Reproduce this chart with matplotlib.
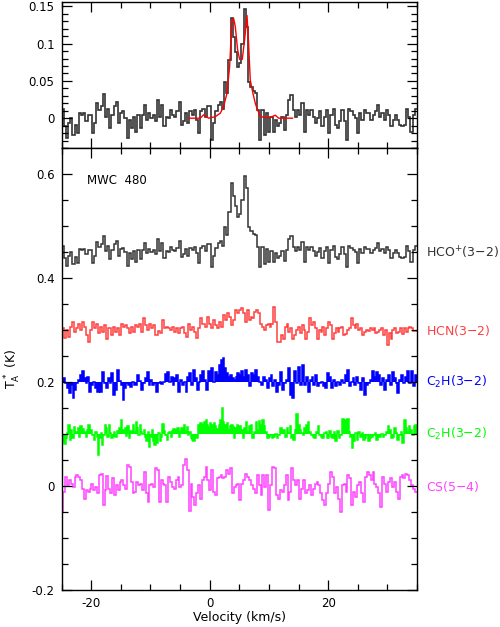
import numpy as np
import matplotlib
matplotlib.use('Agg')
import matplotlib.pyplot as plt
from matplotlib.ticker import MultipleLocator, FuncFormatter
from matplotlib.transforms import blended_transform_factory

# velocity range and split point used when reading the spectra (km/s)
V_MIN, V_SPLIT, V_MAX = -25.0, 5.0, 35.0

# HCO+(3-2), antenna temperature in K (below / above the split velocity)
hco_lo = [0.013, -0.011, -0.027, -0.007, 0.000, -0.022, -0.009, -0.020, 0.007, 0.004,
          0.007, -0.004, 0.004, 0.004, -0.020, -0.007, 0.020, 0.011, 0.016, 0.032,
          0.002, 0.013, -0.013, 0.004, 0.016, 0.022, -0.007, 0.007, 0.009, 0.000,
          -0.027, -0.002, -0.013, 0.002, -0.018, 0.004, -0.013, 0.004, 0.018, -0.002,
          0.007, 0.000, 0.004, -0.004, 0.025, 0.002, 0.018, -0.011, 0.002, 0.000,
          0.011, 0.004, 0.002, 0.009, 0.022, -0.009, -0.004, 0.007, -0.007, 0.009,
          0.004, 0.011, -0.002, -0.020, 0.009, 0.013, 0.002, 0.016, 0.016, -0.029,
          -0.007, 0.009, 0.018, 0.022, 0.013, 0.049, 0.034, 0.078, 0.134, 0.109,
          0.089, 0.069]
hco_hi = [0.074, 0.100, 0.147, 0.123, 0.049, 0.042, 0.036, 0.034, 0.011, -0.029,
          0.011, -0.022, 0.007, -0.018, 0.002, -0.018, -0.002, -0.011, -0.007, 0.002,
          -0.016, 0.004, 0.025, 0.031, 0.011, 0.002, 0.011, 0.004, 0.020, -0.018,
          0.011, 0.004, 0.011, 0.002, -0.007, 0.000, 0.009, -0.011, 0.002, 0.011,
          -0.020, 0.004, 0.013, -0.009, -0.013, -0.004, 0.011, -0.004, -0.029, 0.013,
          0.009, 0.004, 0.000, -0.020, 0.007, -0.002, 0.011, 0.007, 0.007, -0.002,
          0.004, 0.009, 0.018, 0.002, 0.007, -0.002, 0.011, 0.004, -0.011, -0.002,
          0.004, -0.002, -0.009, -0.011, -0.009, 0.013, 0.002, -0.018, 0.004, 0.013]

# disk model fit to HCO+ (top panel)
fit_v = [-3.54, -1.57, -1.01, -0.17, 0.96, 1.80, 2.36, 2.93, 3.37, 3.78, 4.05, 4.33,
         4.72, 5.06, 5.51, 5.90, 6.31, 6.58, 6.86, 7.32, 7.71, 8.09, 8.55, 9.11,
         10.24, 11.08, 11.64, 14.0]
fit_t = [0.0, 0.0, 0.0045, 0.0, 0.002, 0.0067, 0.0156, 0.0335, 0.069, 0.132, 0.134, 0.123,
         0.092, 0.079, 0.079, 0.105, 0.138, 0.100, 0.051, 0.033, 0.020, 0.011, 0.003, 0.001,
         0.001, 0.004, 0.0, 0.0]

hcn_lo = [0.004, -0.014, 0.000, -0.013, 0.007, 0.016, -0.003, 0.005, 0.013, 0.000,
          0.016, 0.007, -0.009, -0.022, 0.000, 0.016, 0.004, 0.013, -0.006, 0.007,
          -0.003, 0.010, -0.016, 0.005, -0.009, 0.007, -0.003, 0.004, -0.009, 0.013,
          0.007, 0.010, 0.004, -0.006, 0.007, -0.003, 0.011, 0.007, 0.013, -0.003,
          0.023, 0.010, 0.000, 0.013, 0.004, 0.010, -0.009, -0.002, -0.006, 0.020,
          0.004, 0.007, 0.004, 0.000, 0.007, -0.003, 0.004, -0.006, 0.004, 0.007,
          -0.006, -0.013, 0.013, 0.000, 0.007, -0.003, -0.014, 0.004, 0.023, 0.013,
          0.007, 0.026, 0.013, 0.004, 0.020, 0.010, 0.004, 0.016, 0.007, 0.029,
          0.020, 0.033, 0.026, 0.010, 0.020, 0.039, 0.033]
hcn_hi = [0.039, 0.042, 0.033, 0.016, 0.039, 0.020, 0.026, 0.023, 0.036, 0.039,
          0.033, 0.013, 0.007, 0.000, 0.010, 0.013, 0.007, 0.013, 0.044, 0.016,
          -0.022, -0.022, -0.009, -0.016, 0.007, 0.013, -0.003, 0.004, -0.016, -0.009,
          0.000, 0.007, -0.006, 0.010, 0.000, -0.016, -0.003, 0.023, 0.010, 0.016,
          0.004, -0.016, 0.000, -0.003, 0.007, -0.009, 0.004, 0.016, 0.010, -0.016,
          -0.006, 0.004, -0.003, 0.004, 0.007, -0.009, -0.008, 0.000, 0.004, 0.023,
          0.010, 0.004, 0.013, 0.000, 0.004, -0.009, -0.003, 0.000, -0.002, 0.004,
          0.000, 0.004, -0.006, -0.003, 0.000, 0.004, -0.009, 0.000, -0.029, -0.006,
          -0.016, 0.000, 0.005, -0.006, -0.003, 0.004, -0.008, 0.004, -0.003, 0.004,
          0.007, 0.004, -0.002, -0.002]

c2h_a_lo = [0.005, 0.008, -0.002, -0.012, -0.021, -0.005, -0.031, -0.015, -0.002, 0.005,
            0.014, 0.021, 0.008, -0.002, 0.011, -0.018, -0.005, 0.001, -0.012, -0.018,
            -0.005, -0.018, 0.019, -0.002, -0.012, 0.008, -0.002, 0.017, -0.025, -0.015,
            0.024, 0.003, -0.005, -0.034, -0.012, -0.002, -0.005, -0.010, 0.001, -0.005,
            -0.005, 0.014, 0.003, -0.015, -0.002, 0.008, 0.019, -0.005, 0.005, -0.005,
            -0.002, -0.018, -0.002, 0.000, -0.004, 0.000, 0.015, 0.019, 0.001, 0.011,
            -0.005, 0.008, 0.014, -0.018, 0.005, -0.005, 0.001, -0.018, 0.011, 0.017,
            -0.005, 0.024, 0.008, -0.015, 0.001, 0.014, 0.021, 0.005, -0.015, 0.022,
            0.011, 0.027, 0.001, 0.019, 0.014, 0.034, 0.043, 0.046, 0.027, 0.017,
            0.011, 0.014, 0.008, 0.005, 0.011, 0.017]
c2h_a_hi = [0.014, 0.021, 0.011, 0.024, 0.014, -0.008, 0.017, 0.014, 0.024, 0.011,
            0.001, -0.005, 0.011, 0.005, -0.012, 0.008, 0.014, -0.008, 0.005, -0.018,
            -0.005, 0.019, -0.015, -0.002, 0.005, 0.027, -0.025, -0.031, 0.021, -0.002,
            0.030, -0.005, 0.034, -0.005, 0.011, -0.018, 0.005, 0.011, -0.005, 0.014,
            -0.008, -0.002, 0.001, -0.008, -0.012, 0.017, 0.011, -0.012, 0.005, -0.008,
            0.000, -0.005, 0.005, -0.002, 0.014, 0.024, -0.008, 0.000, 0.008, -0.005,
            0.011, -0.002, -0.015, 0.008, -0.025, -0.005, -0.002, 0.005, 0.021, 0.011,
            0.019, 0.014, -0.005, 0.008, -0.015, 0.005, 0.014, -0.005, 0.019, 0.008,
            -0.002, -0.021, 0.005, 0.014, -0.002, 0.011, 0.021, -0.002, 0.022, -0.008,
            0.014]

c2h_b_lo = [-0.014, -0.001, -0.019, -0.008, 0.002, 0.018, -0.011, 0.008, -0.008, 0.013,
            0.002, 0.005, 0.012, -0.005, 0.015, 0.002, 0.010, 0.005, -0.006, 0.008,
            0.018, 0.002, 0.008, -0.001, -0.011, 0.004, -0.005, -0.040, -0.008, 0.002,
            -0.021, -0.001, 0.018, 0.012, -0.005, 0.018, 0.002, -0.008, -0.003, 0.005,
            -0.005, 0.006, 0.004, 0.012, 0.028, 0.005, 0.008, 0.012, -0.003, 0.015,
            -0.008, 0.006, 0.002, 0.018, 0.005, 0.023, 0.012, -0.001, 0.018, 0.005,
            0.000, 0.008, -0.005, -0.014, 0.005, -0.024, -0.005, 0.008, -0.014, -0.021,
            -0.005, -0.017, 0.002, -0.014, -0.005, 0.019, 0.006, -0.001, -0.011, 0.002,
            0.005, -0.005, 0.006, 0.010, 0.002, 0.008, 0.012, -0.005, 0.005, 0.012,
            0.002, 0.018, 0.006, 0.013, -0.001, 0.005, -0.008, -0.011, -0.014, -0.001,
            -0.008, 0.018, 0.008, 0.021, 0.010, 0.018, 0.024, 0.028, 0.018, 0.013,
            0.021, 0.008, 0.018, 0.021, 0.015, 0.010, 0.002, 0.018, 0.028, 0.050,
            0.024, 0.018, 0.012, 0.021, 0.008, 0.015, 0.018, 0.013, -0.008, 0.012,
            0.018, 0.008]
c2h_b_hi = [0.015, 0.008, -0.008, 0.012, 0.024, 0.005, 0.015, 0.018, -0.008, 0.005,
            0.024, 0.008, 0.026, 0.018, 0.028, 0.015, 0.005, -0.008, -0.005, -0.001,
            -0.008, -0.005, 0.000, -0.008, -0.001, 0.012, 0.002, 0.008, -0.005, 0.012,
            0.002, 0.015, -0.008, -0.011, 0.008, 0.039, 0.018, 0.008, 0.002, -0.001,
            0.012, 0.018, 0.024, 0.005, -0.001, -0.005, -0.008, 0.005, 0.015, -0.001,
            -0.005, -0.008, 0.002, 0.005, -0.008, 0.006, -0.005, -0.008, 0.005, -0.014,
            0.006, -0.008, -0.001, 0.030, 0.018, 0.028, 0.030, 0.005, -0.005, -0.027,
            -0.014, 0.002, -0.011, 0.005, -0.005, 0.002, -0.011, -0.008, -0.001, -0.014,
            -0.008, -0.005, -0.001, 0.002, -0.011, -0.001, -0.005, 0.000, -0.005, -0.001,
            0.005, 0.015, 0.008, -0.008, -0.005, 0.012, 0.002, -0.011, -0.001, 0.005,
            -0.017, 0.028, 0.012, 0.005, 0.015, 0.008, -0.001, 0.015, 0.018]

cs_lo = [-0.050, -0.011, 0.018, 0.002, 0.012, 0.005, -0.001, 0.018, 0.021, 0.018,
         0.012, -0.005, -0.024, -0.008, -0.011, -0.005, 0.005, -0.008, -0.001, -0.014,
         0.021, 0.024, -0.037, -0.008, 0.020, -0.005, -0.014, 0.015, -0.017, 0.002,
         -0.008, 0.008, 0.012, 0.002, -0.005, 0.041, 0.037, 0.008, -0.014, -0.011,
         0.008, 0.002, 0.005, -0.008, 0.028, -0.014, -0.030, 0.002, 0.005, -0.001,
         0.034, 0.031, -0.030, 0.012, 0.005, 0.002, -0.030, 0.018, 0.008, -0.001,
         -0.005, 0.012, 0.018, -0.001, 0.002, 0.041, 0.053, 0.031, -0.048, 0.005,
         -0.021, -0.037, -0.014, 0.002, -0.024, 0.012, 0.018, 0.037, 0.012, -0.008,
         0.031, -0.011, -0.017, 0.015, 0.018, 0.021, 0.015, 0.018, 0.031, 0.024,
         0.034, -0.014, -0.001, 0.002, 0.005]
cs_hi = [-0.027, 0.005, 0.012, 0.024, 0.018, 0.012, 0.002, -0.005, -0.014, 0.021,
         0.002, -0.017, 0.021, -0.001, 0.021, -0.046, 0.002, 0.037, 0.034, -0.017,
         -0.024, -0.008, -0.011, 0.002, 0.021, -0.027, -0.011, 0.034, 0.012, 0.002,
         0.012, -0.024, -0.005, 0.012, -0.014, -0.008, 0.002, -0.017, -0.005, 0.005,
         0.008, 0.002, -0.014, -0.027, -0.037, -0.014, 0.005, 0.028, 0.018, -0.014,
         -0.001, -0.024, -0.050, 0.002, 0.005, -0.011, 0.021, 0.015, -0.037, -0.011,
         -0.021, 0.002, 0.008, -0.014, -0.030, 0.018, 0.028, 0.021, 0.012, 0.028,
         0.005, -0.001, -0.014, -0.040, 0.018, 0.005, -0.011, 0.008, 0.015, -0.001,
         0.008, -0.011, -0.024, 0.018, 0.021, 0.015, 0.024, 0.021, 0.012, 0.002,
         -0.005, -0.011]

offsets = [0.45, 0.30, 0.20, 0.10, 0.0]
line_names = [r'HCO$^{+}$(3$-$2)', r'HCN(3$-$2)', r'C$_{2}$H(3$-$2)', r'C$_{2}$H(3$-$2)', r'CS(5$-$4)']
line_colors = ['#333333', '#ff4040', '#0000ff', '#00ff00', '#ff44ff']
filled = [False, False, True, True, False]
spectra = [(hco_lo, hco_hi), (hcn_lo, hcn_hi), (c2h_a_lo, c2h_a_hi),
           (c2h_b_lo, c2h_b_hi), (cs_lo, cs_hi)]


def channel_edges(lo, hi):
    # channels are evenly spaced on each side of the split velocity
    e_lo = np.linspace(V_MIN, V_SPLIT, len(lo) + 1)
    e_hi = np.linspace(V_SPLIT, V_MAX, len(hi) + 1)
    return np.concatenate([e_lo, e_hi[1:]])


def style_axes(ax):
    ax.set_xlim(V_MIN, V_MAX)
    ax.xaxis.set_major_locator(MultipleLocator(20))
    ax.xaxis.set_minor_locator(MultipleLocator(5))
    ax.tick_params(which='both', direction='in', top=True, right=True,
                   labelsize=8.5, width=0.9, pad=5)
    ax.tick_params(which='major', length=7)
    ax.tick_params(which='minor', length=4)
    for sp in ax.spines.values():
        sp.set_linewidth(1.0)
    ax.yaxis.set_major_formatter(FuncFormatter(lambda v, p: '%g' % round(v, 3)))
    ax.xaxis.set_major_formatter(FuncFormatter(lambda v, p: '%g' % v))


plt.rcParams['font.family'] = ['DejaVu Sans']
plt.rcParams['axes.unicode_minus'] = True
plt.rcParams['mathtext.default'] = 'regular'

fig = plt.figure(figsize=(5.0, 6.27), dpi=100)
ax_top = fig.add_axes([0.123, 0.764, 0.711, 0.2328])
ax_bot = fig.add_axes([0.123, 0.059, 0.711, 0.705])

# top panel: HCO+ with the model fit
lo, hi = spectra[0]
ax_top.stairs(np.array(lo + hi), channel_edges(lo, hi), baseline=None,
              color=line_colors[0], lw=1.2)
ax_top.plot(fit_v, fit_t, color='#ff0000', lw=1.0)
style_axes(ax_top)
ax_top.set_ylim(-0.04, 0.156)
ax_top.yaxis.set_major_locator(MultipleLocator(0.05))
ax_top.yaxis.set_minor_locator(MultipleLocator(0.01))
ax_top.tick_params(labelbottom=False)

# bottom panel: all lines, shifted by their offsets
trans = blended_transform_factory(ax_bot.transAxes, ax_bot.transData)
for (lo, hi), off, name, col, fill in zip(spectra, offsets, line_names, line_colors, filled):
    vals = np.array(lo + hi) + off
    edges = channel_edges(lo, hi)
    if fill:
        ax_bot.stairs(vals, edges, baseline=off, fill=True, color=col, lw=0)
    ax_bot.stairs(vals, edges, baseline=None, color=col, lw=1.1)
    ax_bot.text(1.026, off, name, transform=trans, color=col, fontsize=9,
                ha='left', va='center', clip_on=False)

ax_bot.text(-20.7, 0.588, 'MWC  480', fontsize=8.5, ha='left', va='center')
style_axes(ax_bot)
ax_bot.set_ylim(-0.2, 0.651)
ax_bot.yaxis.set_major_locator(MultipleLocator(0.2))
ax_bot.yaxis.set_minor_locator(MultipleLocator(0.05))
ax_bot.set_xlabel('Velocity (km/s)', fontsize=9, labelpad=1)
ax_bot.set_ylabel(r'T$_{\mathrm{A}}^{\,*}$ (K)', fontsize=9, labelpad=6)

fig.savefig('out.png', dpi=100)
